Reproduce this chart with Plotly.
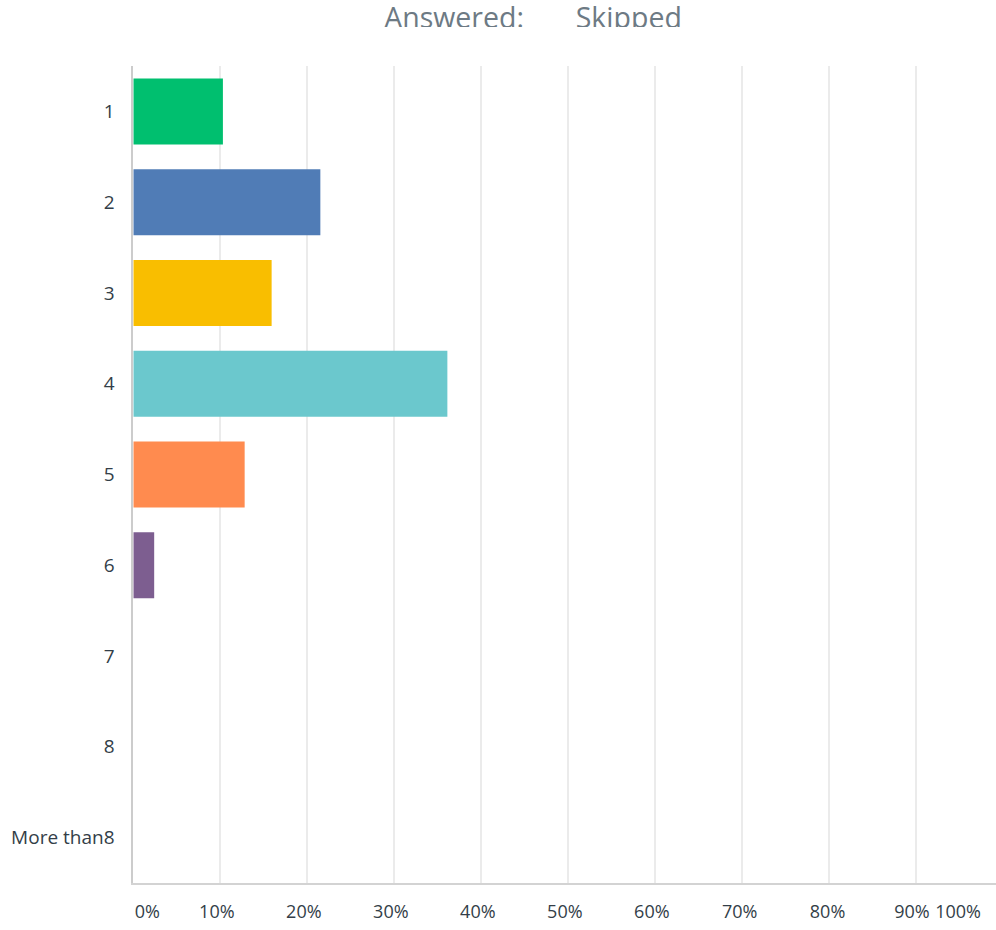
import plotly.graph_objects as go

# Survey answers: share of respondents per option (percent)
categories = ["1", "2", "3", "4", "5", "6", "7", "8", "More than8"]
percent = [10.3, 21.5, 15.9, 36.1, 12.8, 2.4, 0, 0, 0]
bar_colors = ["#00BF6F", "#507CB6", "#F9BE00", "#6BC8CD", "#FF8B4F",
              "#7D5E90", "#D25F90", "#DBDE68", "#A3A3A3"]

# Percentage tick labels along the bottom
x_tick_text = ["0%", "10%", "20%", "30%", "40%", "50%", "60%", "70%", "80%", "90%", "100%"]
x_tick_pos = [1.6, 9.6, 19.6, 29.6, 39.6, 49.6, 59.6, 69.7, 79.8, 89.5, 94.8]
grid_vals = [10, 20, 30, 40, 50, 60, 70, 80, 90]

header_text = "Answered:\u00a0\u00a0\u00a0\u00a0\u00a0\u00a0\u00a0Skipped"

W, H = 996, 930
MB = 47
PAPER_H = H - MB
PLOT_LEFT = 133.3
PLOT_TOP = 66
HEADER_H = 27
X_MAX = (W - PLOT_LEFT) / 8.7

font_family = "Open Sans, sans-serif"
label_color = "#333E48"

fig = go.Figure()

fig.add_trace(go.Bar(
    x=percent,
    y=categories,
    orientation="h",
    marker=dict(color=bar_colors, line=dict(width=0)),
    width=0.727,
    hoverinfo="x+y",
    showlegend=False,
))

# carrier trace for the label axis
fig.add_trace(go.Scatter(
    x=[0], y=[categories[0]], xaxis="x2", yaxis="y",
    mode="markers", marker=dict(opacity=0), hoverinfo="skip", showlegend=False,
))

# header line, clipped to a thin strip at the top
fig.add_trace(go.Scatter(
    x=[533], y=[21], xaxis="x3", yaxis="y3",
    mode="text", text=[header_text], textposition="middle center",
    textfont=dict(family=font_family, size=28.5, color="#6D7A84"),
    cliponaxis=True, hoverinfo="skip", showlegend=False,
))

fig.update_layout(
    width=W, height=H,
    margin=dict(l=0, r=0, t=0, b=MB),
    plot_bgcolor="white", paper_bgcolor="white",
    bargap=0.27,
    xaxis=dict(
        domain=[PLOT_LEFT / W, 1],
        range=[0, X_MAX],
        tickvals=grid_vals,
        showticklabels=False,
        showgrid=True, gridcolor="#EBEBEB", gridwidth=2,
        zeroline=False,
        showline=True, linecolor="#D3D3D3", linewidth=2,
        ticks="",
        fixedrange=True,
    ),
    xaxis2=dict(
        overlaying="x", anchor="y", side="bottom",
        range=[0, X_MAX],
        tickvals=x_tick_pos, ticktext=x_tick_text,
        showgrid=False, zeroline=False, showline=False, ticks="",
        ticklabelstandoff=16,
        tickfont=dict(family=font_family, size=18, color=label_color),
        fixedrange=True,
    ),
    yaxis=dict(
        domain=[0, (PAPER_H - PLOT_TOP) / PAPER_H],
        categoryorder="array", categoryarray=categories,
        range=[len(categories) - 0.5, -0.5],
        showgrid=False, zeroline=False,
        showline=True, linecolor="#CCCCCC", linewidth=2,
        ticks="", ticklabelstandoff=13,
        tickfont=dict(family=font_family, size=19, color=label_color),
        fixedrange=True,
    ),
    xaxis3=dict(domain=[0, 1], range=[0, W], visible=False, anchor="y3", fixedrange=True),
    yaxis3=dict(domain=[1 - HEADER_H / PAPER_H, 1], range=[HEADER_H, 0],
                visible=False, anchor="x3", fixedrange=True),
)

fig.write_html("out.html")
